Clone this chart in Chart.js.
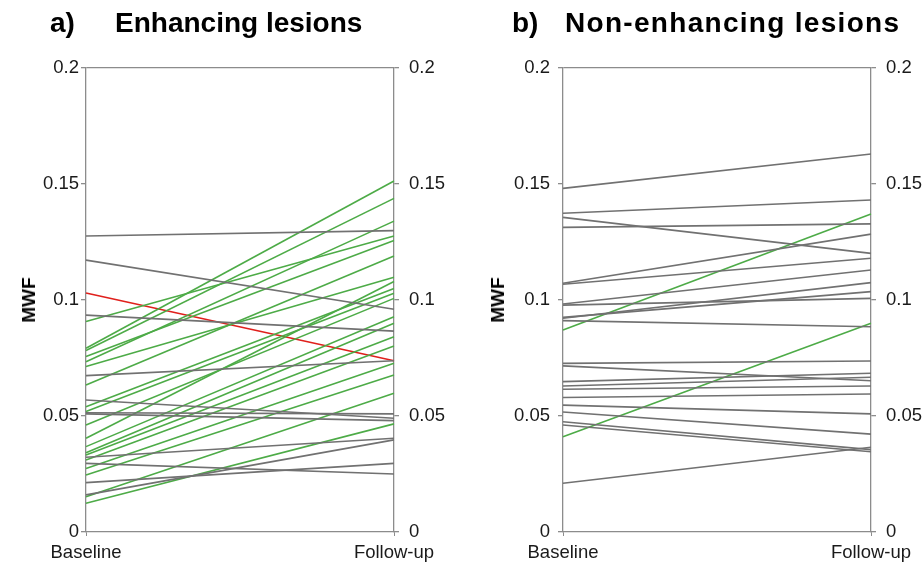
<!DOCTYPE html>
<html lang="en">
<head>
    <meta charset="UTF-8">
    <title>MWF lesions</title>
    <style>
        body { margin: 0; background: #fff; font-family: "Liberation Sans", Arial, sans-serif; }
        #wrap { position: relative; width: 923px; height: 564px; overflow: hidden; }
        canvas { position: absolute; top: 0; }
        .titulo { position: absolute; top: 7px; font-weight: bold; font-size: 28px; color: #000; white-space: nowrap; }
        .ylab { position: absolute; top: 300px; font-weight: bold; font-size: 19px; transform: translate(-50%, -50%) rotate(-90deg); }
    </style>
</head>
<body>
<div id="wrap">
    <canvas id="chartA" width="462" height="564" style="left:0"></canvas>
    <canvas id="chartB" width="461" height="564" style="left:462px"></canvas>
    <div class="titulo" style="left:50px">a)</div>
    <div class="titulo" style="left:115px">Enhancing lesions</div>
    <div class="titulo" style="left:512px">b)</div>
    <div class="titulo" style="left:565px; letter-spacing:1.3px">Non-enhancing lesions</div>
    <div class="ylab" style="left:29px">MWF</div>
    <div class="ylab" style="left:498px">MWF</div>
</div>

<script src="https://cdn.jsdelivr.net/npm/chart.js"></script>
<script>
    // categorias y ticks
    const timepoints = ['Baseline', 'Follow-up'];
    const yTicks = [0, 0.05, 0.1, 0.15, 0.2];

    // a) lesiones que captan contraste
    const enhGrayBase   = [0.1276, 0.1172, 0.0935, 0.0674, 0.0569, 0.0514, 0.0509, 0.0322, 0.0296, 0.0213, 0.016];
    const enhGrayFollow = [0.1299, 0.096, 0.0866, 0.0738, 0.049, 0.0509, 0.048, 0.0404, 0.025, 0.0296, 0.0397];
    const enhGreenBase   = [0.0907, 0.0792, 0.0782, 0.0756, 0.0734, 0.0713, 0.0634, 0.054, 0.0519, 0.0461,
                            0.0404, 0.0368, 0.0342, 0.0332, 0.031, 0.0274, 0.0246, 0.0152, 0.0124];
    const enhGreenFollow = [0.1276, 0.1513, 0.1438, 0.1256, 0.134, 0.1098, 0.119, 0.105, 0.1029, 0.1007,
                            0.108, 0.0928, 0.090, 0.0842, 0.0802, 0.0727, 0.0677, 0.0598, 0.0466];
    const enhRedBase   = [0.103];
    const enhRedFollow = [0.0738];

    // b) lesiones que no captan contraste
    const nonGrayBase   = [0.1481, 0.1374, 0.1356, 0.1313, 0.1072, 0.1068, 0.0983, 0.0978, 0.0921, 0.0911, 0.0925,
                           0.0727, 0.0716, 0.0648, 0.0629, 0.0615, 0.058, 0.0547, 0.0517, 0.0475, 0.0461, 0.021];
    const nonGrayFollow = [0.1629, 0.1431, 0.1201, 0.1328, 0.1284, 0.118, 0.1129, 0.1007, 0.1075, 0.0885, 0.1036,
                           0.0737, 0.0652, 0.0684, 0.0667, 0.0629, 0.0595, 0.0509, 0.0422, 0.0355, 0.0346, 0.0365];
    const nonGreenBase   = [0.0871, 0.0411];
    const nonGreenFollow = [0.1371, 0.090];

    const GRAY = '#717171';
    const GREEN = '#4dab47';
    const RED = '#e0201c';
    const AXIS = '#8c8c8c';
    const fuente = { family: '"Liberation Sans", Arial, sans-serif', size: 18.5 };

    function lineas(base, follow, color) {
        return base.map((v, i) => ({
            data: [v, follow[i]],
            borderColor: color,
            borderWidth: 1.6,
            pointRadius: 0,
            fill: false,
            tension: 0
        }));
    }

    function eje(pos, width, grid, pad) {
        return {
            type: 'linear',
            position: pos,
            min: 0,
            max: 0.2,
            afterBuildTicks: s => { s.ticks = yTicks.map(v => ({ value: v })); },
            afterFit: s => { s.width = width; },
            border: { color: AXIS, width: 1.3 },
            grid: {
                drawOnChartArea: grid,
                color: c => (c.tick && c.tick.value === 0.2) ? AXIS : 'rgba(0,0,0,0)',
                tickColor: AXIS,
                tickLength: 5,
                lineWidth: 1.3
            },
            ticks: { font: fuente, color: '#1a1a1a', padding: pad, callback: v => String(v) }
        };
    }

    function grafica(id, datasets, leftW, rightW, leftPad) {
        return new Chart(document.getElementById(id), {
            type: 'line',
            data: { labels: timepoints, datasets: datasets },
            options: {
                responsive: false,
                animation: false,
                layout: { padding: { top: 68, left: 0, right: 0, bottom: 0 } },
                plugins: { legend: { display: false }, tooltip: { enabled: false } },
                scales: {
                    x: {
                        offset: false,
                        afterFit: s => { s.height = 32; },
                        border: { color: AXIS, width: 1.3 },
                        grid: { drawOnChartArea: false, color: AXIS, tickLength: 4 },
                        ticks: { font: fuente, color: '#1a1a1a', padding: 6, maxRotation: 0, autoSkip: false }
                    },
                    y: eje('left', leftW, true, leftPad),
                    y2: eje('right', rightW, false, 10)
                }
            }
        });
    }

    grafica('chartA', [
        ...lineas(enhGrayBase, enhGrayFollow, GRAY),
        ...lineas(enhGreenBase, enhGreenFollow, GREEN),
        ...lineas(enhRedBase, enhRedFollow, RED)
    ], 86, 68, 2);

    grafica('chartB', [
        ...lineas(nonGrayBase, nonGrayFollow, GRAY),
        ...lineas(nonGreenBase, nonGreenFollow, GREEN)
    ], 101, 52, 8);
</script>
</body>
</html>
